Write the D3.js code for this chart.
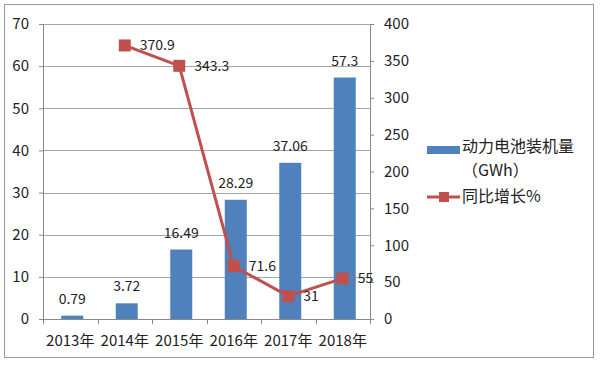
<!DOCTYPE html>
<html>
<head>
<meta charset="utf-8">
<script src="https://cdn.jsdelivr.net/npm/d3@7"></script>
<style>
  body { margin: 0; background: #fff; }
  text { font-family: "Noto Sans CJK SC", "Noto Sans", sans-serif; fill: #222; }
</style>
</head>
<body>
<div id="wrapper"></div>
<script>
const years = ["2013年", "2014年", "2015年", "2016年", "2017年", "2018年"]
const capacity = [0.79, 3.72, 16.49, 28.29, 37.06, 57.3]
const growthYears = ["2014年", "2015年", "2016年", "2017年", "2018年"]
const growth = [370.9, 343.3, 71.6, 31, 55]
const leftTicks = [0, 10, 20, 30, 40, 50, 60, 70]
const rightTicks = [0, 50, 100, 150, 200, 250, 300, 350, 400]
const legendLabels = ["动力电池装机量", "（GWh）", "同比增长%"]

const blue = "#4F81BD"
const red = "#C0504D"

const dimensions = {
    width: 600,
    height: 366,
    margin: { top: 24, right: 230, bottom: 47, left: 43 },
}
dimensions.boundedWidth = dimensions.width - dimensions.margin.left - dimensions.margin.right
dimensions.boundedHeight = dimensions.height - dimensions.margin.top - dimensions.margin.bottom

const wrapper = d3.select("#wrapper")
    .append("svg")
    .attr("width", dimensions.width)
    .attr("height", dimensions.height)

// outer frame
wrapper.append("rect")
    .attr("x", 4.5).attr("y", 4.5)
    .attr("width", 589).attr("height", 353)
    .attr("fill", "none").attr("stroke", "#999")

const bounds = wrapper.append("g")
    .attr("transform", `translate(${dimensions.margin.left}, ${dimensions.margin.top})`)

// scales
const xScale = d3.scaleBand().domain(years).range([0, dimensions.boundedWidth])
const yLeft = d3.scaleLinear().domain([0, 70]).range([dimensions.boundedHeight, 0])
const yRight = d3.scaleLinear().domain([0, 400]).range([dimensions.boundedHeight, 0])

// gridlines
bounds.append("g")
    .selectAll("line")
    .data(leftTicks.filter(d => d > 0))
    .join("line")
    .attr("x1", 0).attr("x2", dimensions.boundedWidth)
    .attr("y1", d => Math.round(yLeft(d)) + 0.5)
    .attr("y2", d => Math.round(yLeft(d)) + 0.5)
    .attr("stroke", "#a6a6a6")

// bars
const barWidth = 22
bounds.append("g")
    .selectAll("rect")
    .data(capacity)
    .join("rect")
    .attr("x", (d, i) => xScale(years[i]) + xScale.bandwidth() / 2 - barWidth / 2 + 2)
    .attr("y", d => yLeft(d))
    .attr("width", barWidth)
    .attr("height", d => dimensions.boundedHeight - yLeft(d))
    .attr("fill", blue)

bounds.append("g")
    .selectAll("text")
    .data(capacity)
    .join("text")
    .attr("x", (d, i) => xScale(years[i]) + xScale.bandwidth() / 2 + 2)
    .attr("y", d => yLeft(d) - 12)
    .attr("text-anchor", "middle")
    .style("font-size", "14px")
    .text(d => d)

// axes
const xAxis = bounds.append("g")
    .attr("transform", `translate(0, ${dimensions.boundedHeight})`)
xAxis.append("line")
    .attr("x1", 0).attr("x2", dimensions.boundedWidth)
    .attr("y1", 0.5).attr("y2", 0.5)
    .attr("stroke", "#888")
xAxis.selectAll(".tick")
    .data(d3.range(years.length + 1))
    .join("line")
    .attr("x1", i => Math.round(i * xScale.step()) + 0.5)
    .attr("x2", i => Math.round(i * xScale.step()) + 0.5)
    .attr("y1", 0).attr("y2", 5)
    .attr("stroke", "#888")
xAxis.selectAll("text")
    .data(years)
    .join("text")
    .attr("x", d => xScale(d) + xScale.bandwidth() / 2)
    .attr("y", 27)
    .attr("text-anchor", "middle")
    .style("font-size", "15px")
    .text(d => d)

const leftAxis = bounds.append("g")
    .call(d3.axisLeft(yLeft).tickValues(leftTicks).tickSize(4).tickPadding(10))
const rightAxis = bounds.append("g")
    .attr("transform", `translate(${dimensions.boundedWidth}, 0)`)
    .call(d3.axisRight(yRight).tickValues(rightTicks).tickSize(4).tickPadding(10))
;[leftAxis, rightAxis].forEach(ax => {
    ax.selectAll("path, line").attr("stroke", "#888")
    ax.selectAll("text").style("font-size", "15px").attr("fill", "#222")
        .style("font-family", "'Noto Sans CJK SC', sans-serif")
})

// line
const lineX = d => xScale(d) + xScale.bandwidth() / 2
const lineGenerator = d3.line()
    .x((d, i) => lineX(growthYears[i]))
    .y(d => yRight(d))

bounds.append("path")
    .attr("d", lineGenerator(growth))
    .attr("fill", "none")
    .attr("stroke", red)
    .attr("stroke-width", 3)

const markerSize = 12
bounds.append("g")
    .selectAll("rect")
    .data(growth)
    .join("rect")
    .attr("x", (d, i) => lineX(growthYears[i]) - markerSize / 2)
    .attr("y", d => yRight(d) - markerSize / 2)
    .attr("width", markerSize).attr("height", markerSize)
    .attr("fill", red)

bounds.append("g")
    .selectAll("text")
    .data(growth)
    .join("text")
    .attr("x", (d, i) => lineX(growthYears[i]) + 15)
    .attr("y", d => yRight(d) + 5)
    .style("font-size", "14px")
    .text(d => d)

// legend
const legend = wrapper.append("g").attr("transform", "translate(427, 0)")
legend.append("rect")
    .attr("x", 0).attr("y", 146).attr("width", 33).attr("height", 8)
    .attr("fill", blue)
legend.append("text")
    .attr("x", 35).attr("y", 152)
    .style("font-size", "16px")
    .text(legendLabels[0])
legend.append("text")
    .attr("x", 35).attr("y", 176)
    .style("font-size", "16px")
    .text(legendLabels[1])
legend.append("line")
    .attr("x1", 0).attr("x2", 33).attr("y1", 197).attr("y2", 197)
    .attr("stroke", red).attr("stroke-width", 3)
legend.append("rect")
    .attr("x", 12).attr("y", 192).attr("width", 10).attr("height", 10)
    .attr("fill", red)
legend.append("text")
    .attr("x", 35).attr("y", 202)
    .style("font-size", "16px")
    .text(legendLabels[2])
</script>
</body>
</html>
